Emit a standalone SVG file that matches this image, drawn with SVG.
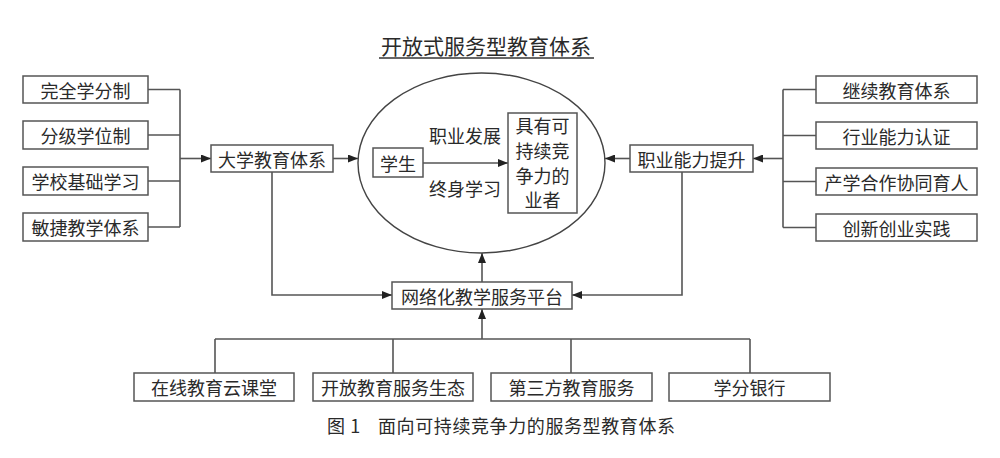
<svg xmlns="http://www.w3.org/2000/svg" width="1000" height="458" viewBox="0 0 1000 458">
<defs>
<marker id="ah" viewBox="0 0 10 8" refX="10" refY="4" markerWidth="10" markerHeight="8" markerUnits="userSpaceOnUse" orient="auto">
<path d="M0,0 L10,4 L0,8 Z" fill="#222"/>
</marker>
<style>
.b{fill:#fff;stroke:#555;stroke-width:1.5}
.t{font-family:"Noto Sans CJK SC","Liberation Serif",sans-serif;font-size:18px;fill:#2a2a2a;text-anchor:middle;dominant-baseline:central}
.c{fill:none;stroke:#555;stroke-width:1.6}
.a{fill:none;stroke:#555;stroke-width:1.6;marker-end:url(#ah)}
</style>
</defs>
<rect width="1000" height="458" fill="#fff"/>

<g id="title">
<text class="t" x="486" y="45" style="font-size:21px">开放式服务型教育体系</text>
<line x1="379" y1="58" x2="594" y2="58" stroke="#333" stroke-width="1.3"/>
</g>

<g id="connectors">
<path class="c" d="M148,89.5 H180 M148,135 H180 M148,181 H180 M148,227 H180 M180,89.5 V227"/>
<path class="a" d="M180,158.5 H211"/>
<path class="a" d="M333,158.5 H358"/>
<path class="c" d="M816,89.5 H783 M816,135.5 H783 M816,181.5 H783 M816,227.5 H783 M783,89.5 V227.5"/>
<path class="a" d="M783,158.5 H753"/>
<path class="a" d="M630,158.5 H605"/>
<path class="a" d="M423,163 H508"/>
<path class="a" d="M272,172 V295 H392"/>
<path class="a" d="M682,172 V295 H572"/>
<path class="a" d="M482,282 V253"/>
<path class="a" d="M482,339 V309"/>
<path class="c" d="M215,339 H750 M215,339 V373 M393,339 V373 M571,339 V373 M750,339 V373"/>
</g>

<g id="n-xfz"><rect class="b" x="23" y="76" width="125" height="27"/><text class="t" x="85.5" y="89.5">完全学分制</text></g>
<g id="n-fjxw"><rect class="b" x="23" y="121" width="125" height="28"/><text class="t" x="85.5" y="135">分级学位制</text></g>
<g id="n-xxjc"><rect class="b" x="23" y="167" width="125" height="28"/><text class="t" x="85.5" y="181">学校基础学习</text></g>
<g id="n-mjjx"><rect class="b" x="23" y="213" width="125" height="28"/><text class="t" x="85.5" y="227">敏捷教学体系</text></g>

<g id="n-dxjy"><rect class="b" x="211" y="145" width="122" height="27"/><text class="t" x="272" y="158.5">大学教育体系</text></g>

<g id="n-core">
<ellipse cx="481.5" cy="163" rx="123.5" ry="90" fill="none" stroke="#444" stroke-width="1.4"/>
<text class="t" x="465" y="135">职业发展</text>
<text class="t" x="465" y="188">终身学习</text>
</g>
<g id="n-xs"><rect class="b" x="373" y="148" width="50" height="29"/><text class="t" x="398" y="162.5">学生</text></g>
<g id="n-yz"><rect class="b" x="508" y="113" width="69" height="100"/>
<text class="t" x="542.5" y="125">具有可</text>
<text class="t" x="542.5" y="150">持续竞</text>
<text class="t" x="542.5" y="175">争力的</text>
<text class="t" x="542.5" y="199">业者</text>
</g>

<g id="n-zynl"><rect class="b" x="630" y="145" width="123" height="27"/><text class="t" x="691.5" y="158.5">职业能力提升</text></g>

<g id="n-jxjy"><rect class="b" x="816" y="76" width="161" height="27"/><text class="t" x="896.5" y="89.5">继续教育体系</text></g>
<g id="n-hynl"><rect class="b" x="816" y="122" width="161" height="27"/><text class="t" x="896.5" y="135.5">行业能力认证</text></g>
<g id="n-cxhz"><rect class="b" x="816" y="168" width="161" height="27"/><text class="t" x="896.5" y="181.5">产学合作协同育人</text></g>
<g id="n-cxcy"><rect class="b" x="816" y="214" width="161" height="27"/><text class="t" x="896.5" y="227.5">创新创业实践</text></g>

<g id="n-wlh"><rect class="b" x="392" y="282" width="180" height="27"/><text class="t" x="482" y="295.5">网络化教学服务平台</text></g>

<g id="n-zx"><rect class="b" x="134" y="373" width="160" height="28"/><text class="t" x="214" y="387">在线教育云课堂</text></g>
<g id="n-kf"><rect class="b" x="313" y="373" width="160" height="28"/><text class="t" x="393" y="387">开放教育服务生态</text></g>
<g id="n-dsf"><rect class="b" x="491" y="373" width="161" height="28"/><text class="t" x="571.5" y="387">第三方教育服务</text></g>
<g id="n-xfyh"><rect class="b" x="669" y="373" width="161" height="28"/><text class="t" x="749.5" y="387">学分银行</text></g>

<g id="caption">
<text class="t" style="text-anchor:start;letter-spacing:0.6px" y="425"><tspan x="327">图 1</tspan><tspan x="378">面向可持续竞争力的服务型教育体系</tspan></text>
</g>
</svg>
